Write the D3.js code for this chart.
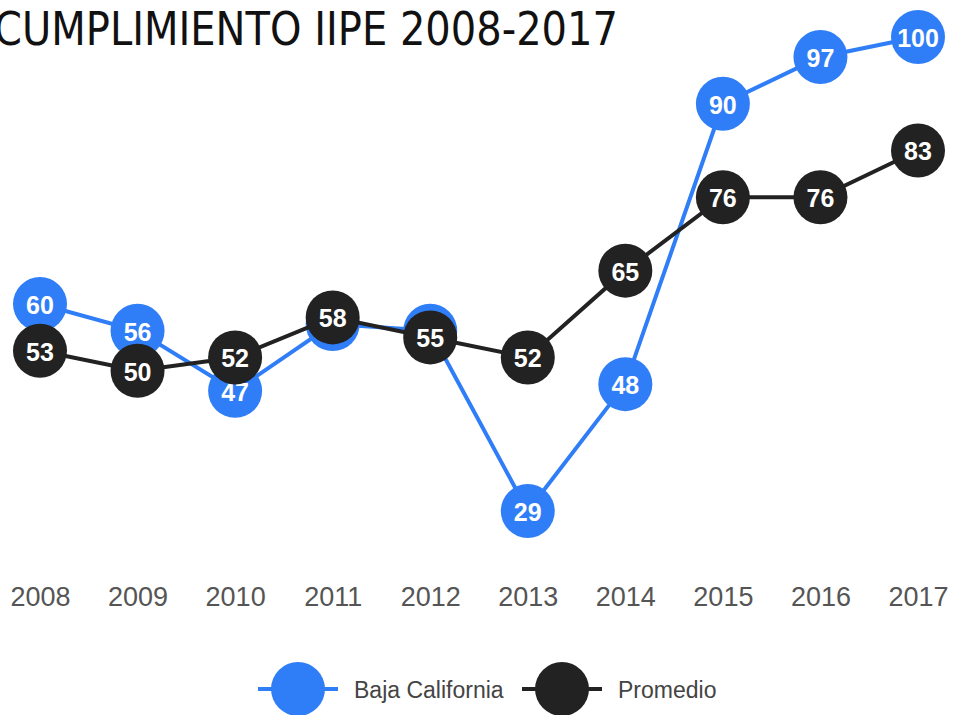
<!DOCTYPE html>
<html>
<head>
<meta charset="utf-8">
<script src="https://cdn.jsdelivr.net/npm/d3@7"></script>
<style>
  body { margin: 0; background: #fff; }
</style>
</head>
<body>
<svg id="chart"></svg>
<script>
const width = 953, height = 715;

const years = ["2008", "2009", "2010", "2011", "2012", "2013", "2014", "2015", "2016", "2017"];
const baja = [60, 56, 47, 57, 56, 29, 48, 90, 97, 100];
const promedio = [53, 50, 52, 58, 55, 52, 65, 76, 76, 83];
const seriesNames = ["Baja California", "Promedio"];
const seriesColors = ["#2f7ef7", "#222222"];

const svg = d3.select("#chart")
    .attr("width", width)
    .attr("height", height)
    .style("background", "#ffffff");

const xScale = d3.scalePoint()
    .domain(years)
    .range([40, 918]);

const yScale = d3.scaleLinear()
    .domain([29, 100])
    .range([511, 37]);

// title (cut off at the left edge like the original)
svg.append("text")
    .attr("x", -6)
    .attr("y", 45)
    .attr("textLength", 624)
    .attr("lengthAdjust", "spacingAndGlyphs")
    .style("font-family", "'DejaVu Sans Condensed', 'DejaVu Sans', sans-serif")
    .style("font-stretch", "condensed")
    .style("font-size", "46px")
    .style("fill", "#111")
    .text("CUMPLIMIENTO IIPE 2008-2017");

// x axis labels
const xAxis = svg.append("g")
    .attr("transform", "translate(0,587)")
    .call(d3.axisBottom(xScale).tickSize(0).tickPadding(0));
xAxis.select(".domain").remove();
xAxis.selectAll("text")
    .style("font-family", "'Liberation Sans', Arial, sans-serif")
    .style("font-size", "27px")
    .style("fill", "#555");

const line = d3.line()
    .x((d, i) => xScale(years[i]))
    .y(d => yScale(d));

[baja, promedio].forEach((values, s) => {
    const g = svg.append("g");
    g.append("path")
        .datum(values)
        .attr("fill", "none")
        .attr("stroke", seriesColors[s])
        .attr("stroke-width", 4)
        .attr("d", line);

    g.selectAll("circle")
        .data(values)
        .join("circle")
        .attr("cx", (d, i) => xScale(years[i]))
        .attr("cy", d => yScale(d))
        .attr("r", 27)
        .attr("fill", seriesColors[s]);

    g.selectAll("text")
        .data(values)
        .join("text")
        .attr("x", (d, i) => xScale(years[i]))
        .attr("y", d => yScale(d) + 1)
        .attr("text-anchor", "middle")
        .attr("dominant-baseline", "central")
        .style("font-family", "'Liberation Sans', Arial, sans-serif")
        .style("font-weight", "bold")
        .style("font-size", "25px")
        .style("fill", "#fff")
        .text(d => d);
});

// legend
const legendX = [258, 522];
const legend = svg.append("g").attr("transform", "translate(0,689)");
seriesNames.forEach((name, s) => {
    const x0 = legendX[s];
    legend.append("line")
        .attr("x1", x0).attr("x2", x0 + 80)
        .attr("y1", 0).attr("y2", 0)
        .attr("stroke", seriesColors[s])
        .attr("stroke-width", 4);
    legend.append("circle")
        .attr("cx", x0 + 40)
        .attr("cy", 0)
        .attr("r", 27)
        .attr("fill", seriesColors[s]);
    legend.append("text")
        .attr("x", x0 + 96)
        .attr("y", 1)
        .attr("dominant-baseline", "central")
        .style("font-family", "'Liberation Sans', Arial, sans-serif")
        .style("font-size", "23px")
        .style("fill", "#444")
        .text(name);
});
</script>
</body>
</html>
